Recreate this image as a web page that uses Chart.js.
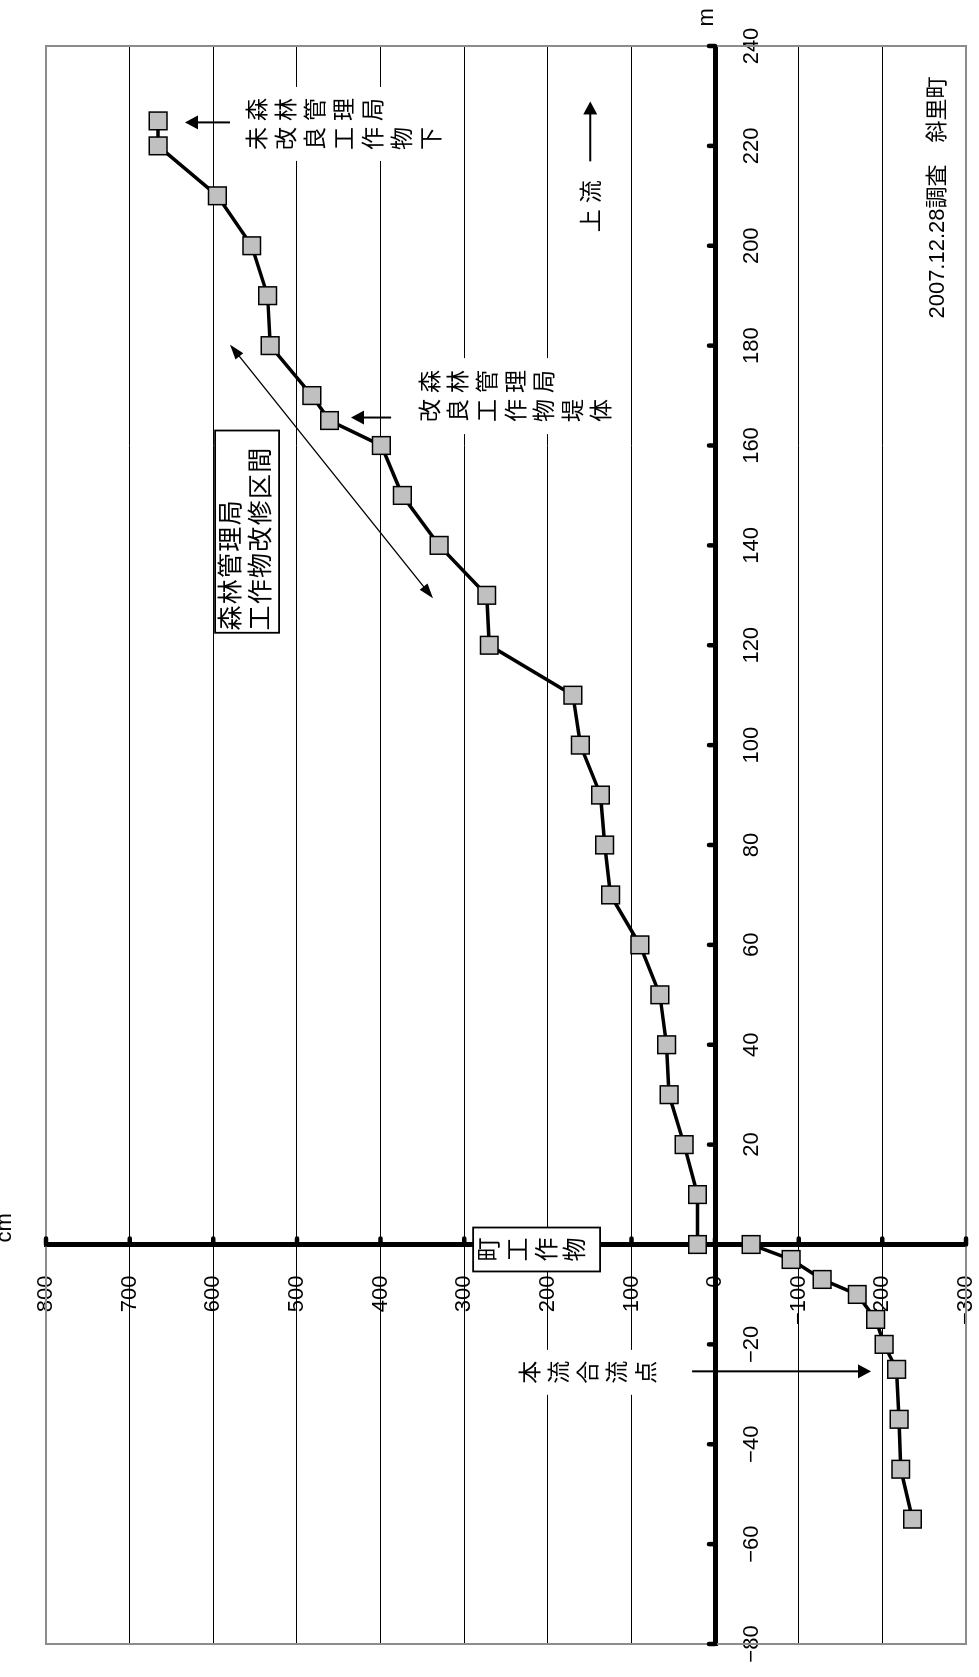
<!DOCTYPE html>
<html><head><meta charset="utf-8">
<script src="https://cdn.jsdelivr.net/npm/chart.js@4.4.1/dist/chart.umd.min.js"></script>
<style>
html,body{margin:0;padding:0;background:#fff;overflow:hidden;width:979px;height:1677px;}
#wrap{position:absolute;left:0;top:0;width:1677px;height:979px;transform-origin:0 0;transform:translateY(1677px) rotate(-90deg);}
canvas{display:block;}
</style></head><body>
<div id="wrap"><canvas id="c" width="1677" height="979"></canvas></div>
<script>
// ---- data (distance along stream in m, riverbed elevation in cm) ----
const distanceM   = [225,220,210,200,190,180,170,165,160,150,140,130,120,110,100,90,80,70,60,50,40,30,20,10,0,0,-3,-7,-10,-15,-20,-25,-35,-45,-55];
const elevationCm = [666,666,595,554,535,532,482,461,399,374,330,273,270,170,161,137,132,125,90,66,58,55,37,21,21,-43,-91,-128,-170,-192,-202,-217,-220,-222,-236];
const distRange = [-80, 240];
const distStep = 20;
const elevRange = [-300, 800];
const elevStep = 100;
const unitDist = 'm';
const unitElev = 'cm';
const titleText = '2007.12.28調査　斜里町';
const noteUpper = ['森林管理局', '未改良工作物下'];
const noteDike = ['森林管理局', '改良工作物堤体'];
const noteSection = ['森林管理局', '工作物改修区間'];
const noteWeir = ['町工作物'];
const noteConfluence = ['本流合流点'];
const noteUpstream = '上流';

const JP = '"Noto Sans CJK JP", "Noto Sans CJK SC", sans-serif';
const NUM = '"Liberation Sans", Arial, sans-serif';
const fmt = v => (v < 0 ? '\u2212' + Math.abs(v) : String(v));

function P(chart, m, cm) {
  return [chart.scales.x.getPixelForValue(m), chart.scales.y.getPixelForValue(cm)];
}
function arrow(ctx, x1, y1, x2, y2, o) {
  const a = Math.atan2(y2 - y1, x2 - x1);
  const L = o.head, W = o.headW / 2;
  ctx.save();
  ctx.strokeStyle = '#000'; ctx.fillStyle = '#000'; ctx.lineWidth = o.lw;
  let sx = x1, sy = y1, ex = x2 - Math.cos(a) * L * 0.8, ey = y2 - Math.sin(a) * L * 0.8;
  if (o.both) { sx += Math.cos(a) * L * 0.8; sy += Math.sin(a) * L * 0.8; }
  ctx.beginPath(); ctx.moveTo(sx, sy); ctx.lineTo(ex, ey); ctx.stroke();
  const head = (tx, ty, an) => {
    ctx.beginPath();
    ctx.moveTo(tx, ty);
    ctx.lineTo(tx - L * Math.cos(an) + W * Math.sin(an), ty - L * Math.sin(an) - W * Math.cos(an));
    ctx.lineTo(tx - L * Math.cos(an) - W * Math.sin(an), ty - L * Math.sin(an) + W * Math.cos(an));
    ctx.closePath(); ctx.fill();
  };
  head(x2, y2, a);
  if (o.both) head(x1, y1, a + Math.PI);
  ctx.restore();
}
// vertical (tategaki) text: columns right-to-left, chars top-to-bottom
function vText(chart, lines, at, o) {
  const ctx = chart.ctx;
  const [x0, y0] = P(chart, at[0], at[1]);
  const maxLen = Math.max(...lines.map(l => [...l].length));
  ctx.save();
  if (o.bg) {
    const left = x0 - (lines.length - 1) * o.gap - o.size / 2 - o.padX;
    const right = x0 + o.size / 2 + o.padX;
    const top = y0 - o.size / 2 - o.padY;
    const bottom = y0 + (maxLen - 1) * o.pitch + o.size / 2 + o.padY;
    ctx.fillStyle = '#fff';
    ctx.fillRect(left, top, right - left, bottom - top);
  }
  ctx.fillStyle = '#000';
  ctx.font = o.size + 'px ' + JP;
  ctx.textAlign = 'center'; ctx.textBaseline = 'middle';
  lines.forEach((line, i) => {
    [...line].forEach((ch, j) => ctx.fillText(ch, x0 - i * o.gap, y0 + j * o.pitch));
  });
  ctx.restore();
}
// horizontal text drawn with a fixed character pitch
function hText(chart, lines, at, o) {
  const ctx = chart.ctx;
  const [x0, y0] = P(chart, at[0], at[1]);
  ctx.save();
  ctx.fillStyle = '#000';
  ctx.font = o.size + 'px ' + JP;
  ctx.textAlign = 'center'; ctx.textBaseline = 'middle';
  lines.forEach((line, i) => {
    [...line].forEach((ch, j) => ctx.fillText(ch, x0 + j * o.pitch, y0 + i * o.lineGap));
  });
  ctx.restore();
}
function box(chart, mr, cr, lw) {
  const ctx = chart.ctx;
  const [x1, y1] = P(chart, mr[0], cr[0]);
  const [x2, y2] = P(chart, mr[1], cr[1]);
  ctx.save();
  ctx.fillStyle = '#fff'; ctx.strokeStyle = '#000'; ctx.lineWidth = lw;
  ctx.fillRect(x1, y1, x2 - x1, y2 - y1);
  ctx.strokeRect(x1, y1, x2 - x1, y2 - y1);
  ctx.restore();
}

const deco = {
  id: 'deco',
  beforeDraw(chart) {
    const s = chart.scales.y;
    try {
      const items = s._computeLabelItems(chart.chartArea);
      items.forEach(it => { it.options.translation[0] -= 31; });
      s._labelItems = items;
    } catch (e) {}
  },
  beforeDatasetsDraw(chart) {
    const {ctx, chartArea: a, scales: {x, y}} = chart;
    ctx.save();
    ctx.strokeStyle = '#8c8c8c'; ctx.lineWidth = 2;
    ctx.strokeRect(a.left, a.top, a.right - a.left, a.bottom - a.top);
    const ax = x.getPixelForValue(0), ay = y.getPixelForValue(0);
    ctx.strokeStyle = '#000'; ctx.lineCap = 'round'; ctx.lineWidth = 4.5;
    x.ticks.forEach(t => {
      const px = x.getPixelForValue(t.value);
      ctx.beginPath(); ctx.moveTo(px, ay); ctx.lineTo(px, ay - 6); ctx.stroke();
    });
    y.ticks.forEach(t => {
      const py = y.getPixelForValue(t.value);
      ctx.beginPath(); ctx.moveTo(ax, py); ctx.lineTo(ax + 6, py); ctx.stroke();
    });
    ctx.restore();
  },
  afterDraw(chart) {
    const ctx = chart.ctx;
    ctx.save();
    ctx.fillStyle = '#000';
    ctx.font = '22px ' + NUM;
    ctx.textBaseline = 'alphabetic'; ctx.textAlign = 'left';
    let p = P(chart, 243.9, 2); ctx.fillText(unitDist, p[0], p[1]);
    p = P(chart, 0.4, 842.3); ctx.fillText(unitElev, p[0], p[1]);
    ctx.font = '22px "Liberation Sans", "Noto Sans CJK JP", sans-serif';
    ctx.textAlign = 'right'; ctx.textBaseline = 'middle';
    p = P(chart, 233.9, -266.6); ctx.fillText(titleText, p[0], p[1]);
    ctx.restore();

    vText(chart, noteUpper, [227.3, 548.2], {size: 23, pitch: 28.9, gap: 29, bg: true, padX: 11, padY: 7});
    let a = P(chart, 224.7, 580), b = P(chart, 224.7, 633.7);
    arrow(ctx, a[0], a[1], b[0], b[1], {lw: 2, head: 13, headW: 14});

    vText(chart, noteDike, [172.8, 341.9], {size: 23, pitch: 28.6, gap: 29, bg: true, padX: 12, padY: 7});
    a = P(chart, 165.6, 387.4); b = P(chart, 165.6, 435.2);
    arrow(ctx, a[0], a[1], b[0], b[1], {lw: 2, head: 13, headW: 14});

    box(chart, [122.5, 163.0], [597.8, 521.3], 1.8);
    hText(chart, noteSection, [125.45, 581.1], {size: 25, pitch: 26.3, lineGap: 30.5});
    a = P(chart, 180.2, 579.9); b = P(chart, 129.4, 337.2);
    arrow(ctx, a[0], a[1], b[0], b[1], {lw: 1.3, head: 15, headW: 10, both: true});

    box(chart, [-5.4, 3.4], [289.3, 137.5], 1.8);
    vText(chart, noteWeir, [-1.0, 271.4], {size: 24, pitch: 28.7, gap: 29});

    vText(chart, noteConfluence, [-25.6, 222.4], {size: 23, pitch: 29, gap: 29, bg: true, padX: 11, padY: 5});
    a = P(chart, -25.4, 27.5); b = P(chart, -25.4, -186.5);
    arrow(ctx, a[0], a[1], b[0], b[1], {lw: 2, head: 13, headW: 14});

    hText(chart, [noteUpstream], [205.0, 149.4], {size: 23, pitch: 29, lineGap: 0});
    a = P(chart, 216.9, 149.4); b = P(chart, 228.9, 149.4);
    arrow(ctx, a[0], a[1], b[0], b[1], {lw: 2, head: 13, headW: 14});
  }
};

new Chart(document.getElementById('c'), {
  type: 'line',
  data: {
    datasets: [{
      data: distanceM.map((m, i) => ({x: m, y: elevationCm[i]})),
      borderColor: '#000',
      borderWidth: 3.5,
      pointStyle: 'rect',
      pointRadius: 12.5,
      pointBackgroundColor: '#c0c0c0',
      pointBorderColor: '#000',
      pointBorderWidth: 1.5,
      tension: 0,
      clip: false
    }]
  },
  options: {
    responsive: false,
    animation: false,
    devicePixelRatio: 1,
    events: [],
    layout: {autoPadding: false, padding: {left: 33, right: 46, top: 46, bottom: 13}},
    plugins: {legend: {display: false}, tooltip: {enabled: false}},
    scales: {
      x: {
        type: 'linear', min: distRange[0], max: distRange[1],
        position: {y: 0},
        ticks: {stepSize: distStep, autoSkip: false, maxRotation: 0, minRotation: 0, padding: 24,
                color: '#000', font: {family: NUM, size: 22}, callback: fmt},
        grid: {display: false, drawTicks: false, tickLength: 0},
        border: {display: true, color: '#000', width: 5},
        afterFit: s => { s.height = 0; s.paddingLeft = 0; s.paddingRight = 0; }
      },
      y: {
        type: 'linear', min: elevRange[0], max: elevRange[1],
        position: {x: 0},
        ticks: {stepSize: elevStep, autoSkip: false, padding: 0,
                color: '#000', font: {family: NUM, size: 22}, callback: fmt},
        grid: {
          drawTicks: false, tickLength: 0, color: '#000',
          lineWidth: c => (c.tick && (c.tick.value === 0 || c.tick.value === elevRange[0] || c.tick.value === elevRange[1])) ? 0 : 1
        },
        border: {display: true, color: '#000', width: 5},
        afterFit: s => { s.width = 0; s.paddingTop = 0; s.paddingBottom = 0; }
      }
    }
  },
  plugins: [deco]
});
</script>
</body></html>
